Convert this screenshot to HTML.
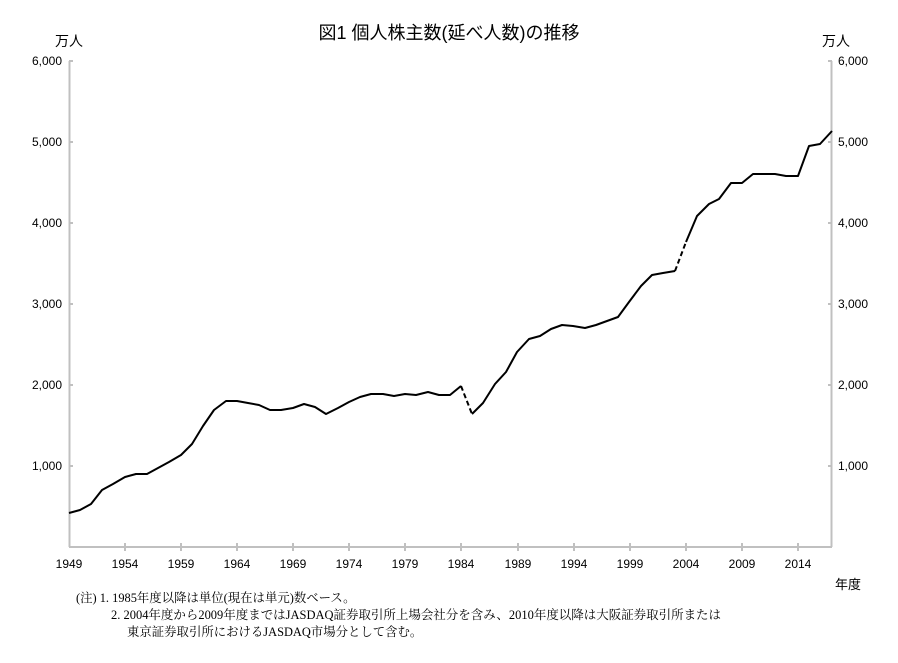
<!DOCTYPE html>
<html><head><meta charset="utf-8"><style>
body{margin:0;background:#fff;}
svg text{font-family:"Liberation Sans","Noto Sans CJK JP",sans-serif;fill:#000;}
svg text.f{font-family:"Liberation Serif","Noto Serif CJK SC",serif;}
</style></head><body>
<svg width="898" height="658" viewBox="0 0 898 658" xmlns="http://www.w3.org/2000/svg">
<rect width="898" height="658" fill="#fff"/>
<text x="449" y="39" font-size="18" text-anchor="middle">図1 個人株主数(延べ人数)の推移</text>
<text x="55" y="46" font-size="14">万人</text>
<text x="822" y="46" font-size="14">万人</text>
<g stroke="#c0c0c0" stroke-width="2" fill="none">
<line x1="69.5" y1="61" x2="69.5" y2="547"/>
<line x1="831.5" y1="61" x2="831.5" y2="547"/>
<line x1="69" y1="547" x2="832" y2="547"/>
<path d="M69 61h4M69 142h4M69 223h4M69 304h4M69 385h4M69 466h4"/>
<path d="M832 61h-4M832 142h-4M832 223h-4M832 304h-4M832 385h-4M832 466h-4"/>
<path d="M125 543v8M181 543v8M237 543v8M293 543v8M349 543v8M405 543v8M461 543v8M518 543v8M574 543v8M630 543v8M686 543v8M742 543v8M798 543v8"/>
</g>
<g font-size="12" text-anchor="end">
<text x="62" y="65">6,000</text><text x="62" y="146">5,000</text><text x="62" y="227">4,000</text>
<text x="62" y="308">3,000</text><text x="62" y="389">2,000</text><text x="62" y="470">1,000</text>
</g>
<g font-size="12">
<text x="838" y="65">6,000</text><text x="838" y="146">5,000</text><text x="838" y="227">4,000</text>
<text x="838" y="308">3,000</text><text x="838" y="389">2,000</text><text x="838" y="470">1,000</text>
</g>
<g font-size="12" text-anchor="middle">
<text x="69" y="568">1949</text><text x="125" y="568">1954</text><text x="181" y="568">1959</text>
<text x="237" y="568">1964</text><text x="293" y="568">1969</text><text x="349" y="568">1974</text>
<text x="405" y="568">1979</text><text x="461" y="568">1984</text><text x="518" y="568">1989</text>
<text x="574" y="568">1994</text><text x="630" y="568">1999</text><text x="686" y="568">2004</text>
<text x="742" y="568">2009</text><text x="798" y="568">2014</text>
</g>
<text x="835" y="589" font-size="13">年度</text>
<g fill="none" stroke="#000" stroke-width="2" stroke-linejoin="round">
<polyline points="69,513 80,510 91,504 102,490 113,484 125,477 136,474 147,474 158,468 169,462 181,455 192,444 203,426 214,410 226,401 237,401 248,403 259,405 270,410 281,410 293,408 304,404 315,407 326,414 338,408 349,402 360,397 371,394 383,394 394,396 405,394 416,395 428,392 439,395 450,395 461,386"/>
<polyline points="461,386 472,414" stroke-dasharray="5,3"/>
<polyline points="472,414 483,403 495,384 506,372 517,352 529,339 540,336 551,329 562,325 573,326 585,328 596,325 607,321 618,317 629,302 641,286 652,275 663,273 675,271"/>
<polyline points="675,271 686,242" stroke-dasharray="5,3"/>
<polyline points="686,242 697,216 709,204 719,199 731,183 742,183 753,174 764,174 775,174 786,176 798,176 809,146 820,144 832,131"/>
</g>
<g font-size="12.4">
<text class="f" x="76" y="602">(注) 1. 1985年度以降は単位(現在は単元)数ベース。</text>
<text class="f" x="111" y="619" textLength="610" lengthAdjust="spacingAndGlyphs">2. 2004年度から2009年度まではJASDAQ証券取引所上場会社分を含み、2010年度以降は大阪証券取引所または</text>
<text class="f" x="127" y="636">東京証券取引所におけるJASDAQ市場分として含む。</text>
</g>
</svg>
</body></html>
